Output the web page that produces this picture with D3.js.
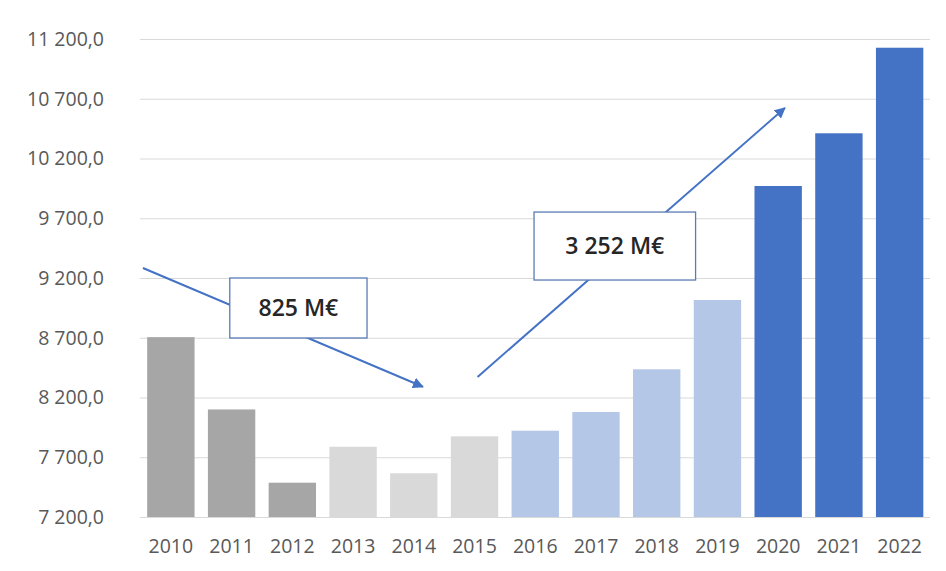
<!DOCTYPE html>
<html><head><meta charset="utf-8">
<script src="https://cdn.jsdelivr.net/npm/d3@7"></script>
<style>body{margin:0;background:#fff;}svg{display:block;}</style>
</head><body>
<svg id="chart" width="946" height="571"></svg>
<script>
const years = ["2010","2011","2012","2013","2014","2015","2016","2017","2018","2019","2020","2021","2022"];
const values = [8705, 8100, 7487, 7788, 7566, 7875, 7922, 8079, 8436, 9016, 9970, 10411, 11127];
const groups = ["g1","g1","g1","g2","g2","g2","g3","g3","g3","g3","g4","g4","g4"];
const groupColors = {g1:"#a6a6a6", g2:"#d9d9d9", g3:"#b4c7e7", g4:"#4472c4"};
const yTicks = [7200, 7700, 8200, 8700, 9200, 9700, 10200, 10700, 11200];
const annotations = [
  {label:"825 M€", from:[2009.54, 9284], to:[2014.15, 8290], box:[2010.97, 9200, 2013.23, 8698]},
  {label:"3 252 M€", from:[2015.05, 8372], to:[2020.11, 10623], box:[2015.98, 9752, 2018.64, 9183]}
];

const svg = d3.select("#chart");
const x = d3.scaleBand().domain(years).range([140.5, 930]).paddingInner(0.22).paddingOuter(0.11);
const y = d3.scaleLinear().domain([7200, 11200]).range([517, 39]);
// continuous year scale for annotations, aligned with band centers
const xn = d3.scaleLinear().domain([+years[0], +years[years.length-1]])
  .range([x(years[0]) + x.bandwidth()/2, x(years[years.length-1]) + x.bandwidth()/2]);

const fmt = v => d3.format(",.1f")(v).replace(",", " ").replace(".", ",");
const font = "Open Sans, sans-serif";

// gridlines + y labels
const yAxis = d3.axisLeft(y).tickValues(yTicks).tickFormat(fmt).tickSize(-(930-140)).tickPadding(36);
const ga = svg.append("g").attr("transform","translate(140,0)").call(yAxis);
ga.select(".domain").remove();
ga.selectAll(".tick line").attr("stroke","#d9d9d9").attr("stroke-width",1.2);
ga.selectAll(".tick text").attr("fill","#595959").attr("font-family",font).attr("font-size",19.5);

// bars
svg.append("g").selectAll("rect").data(years).join("rect")
  .attr("x", d => x(d)).attr("width", x.bandwidth())
  .attr("y", (d,i) => y(values[i])).attr("height", (d,i) => y(7200) - y(values[i]))
  .attr("fill", (d,i) => groupColors[groups[i]]);

// x axis labels
const xAxis = d3.axisBottom(x).tickSize(0).tickPadding(19);
const gx = svg.append("g").attr("transform","translate(0,520)").call(xAxis);
gx.select(".domain").remove();
gx.selectAll(".tick text").attr("fill","#595959").attr("font-family",font).attr("font-size",19.5);

// arrow marker
svg.append("defs").append("marker").attr("id","arr").attr("viewBox","0 0 10 10")
  .attr("refX",9).attr("refY",5).attr("markerWidth",5.5).attr("markerHeight",5.5)
  .attr("orient","auto").append("path").attr("d","M0,0L10,5L0,10z").attr("fill","#4472c4");

annotations.forEach(a => {
  svg.append("line")
    .attr("x1", xn(a.from[0])).attr("y1", y(a.from[1]))
    .attr("x2", xn(a.to[0])).attr("y2", y(a.to[1]))
    .attr("stroke","#4472c4").attr("stroke-width",2).attr("marker-end","url(#arr)");
  const bx0 = xn(a.box[0]), by0 = y(a.box[1]), bx1 = xn(a.box[2]), by1 = y(a.box[3]);
  svg.append("rect").attr("x",bx0).attr("y",by0).attr("width",bx1-bx0).attr("height",by1-by0)
    .attr("fill","#fff").attr("stroke","#5b7bb5").attr("stroke-width",1.3);
  svg.append("text").attr("x",(bx0+bx1)/2).attr("y",(by0+by1)/2).attr("dy","0.36em")
    .attr("text-anchor","middle").attr("font-family",font).attr("font-size",23)
    .attr("font-weight",600).attr("fill","#262626").text(a.label);
});
</script>
</body></html>
